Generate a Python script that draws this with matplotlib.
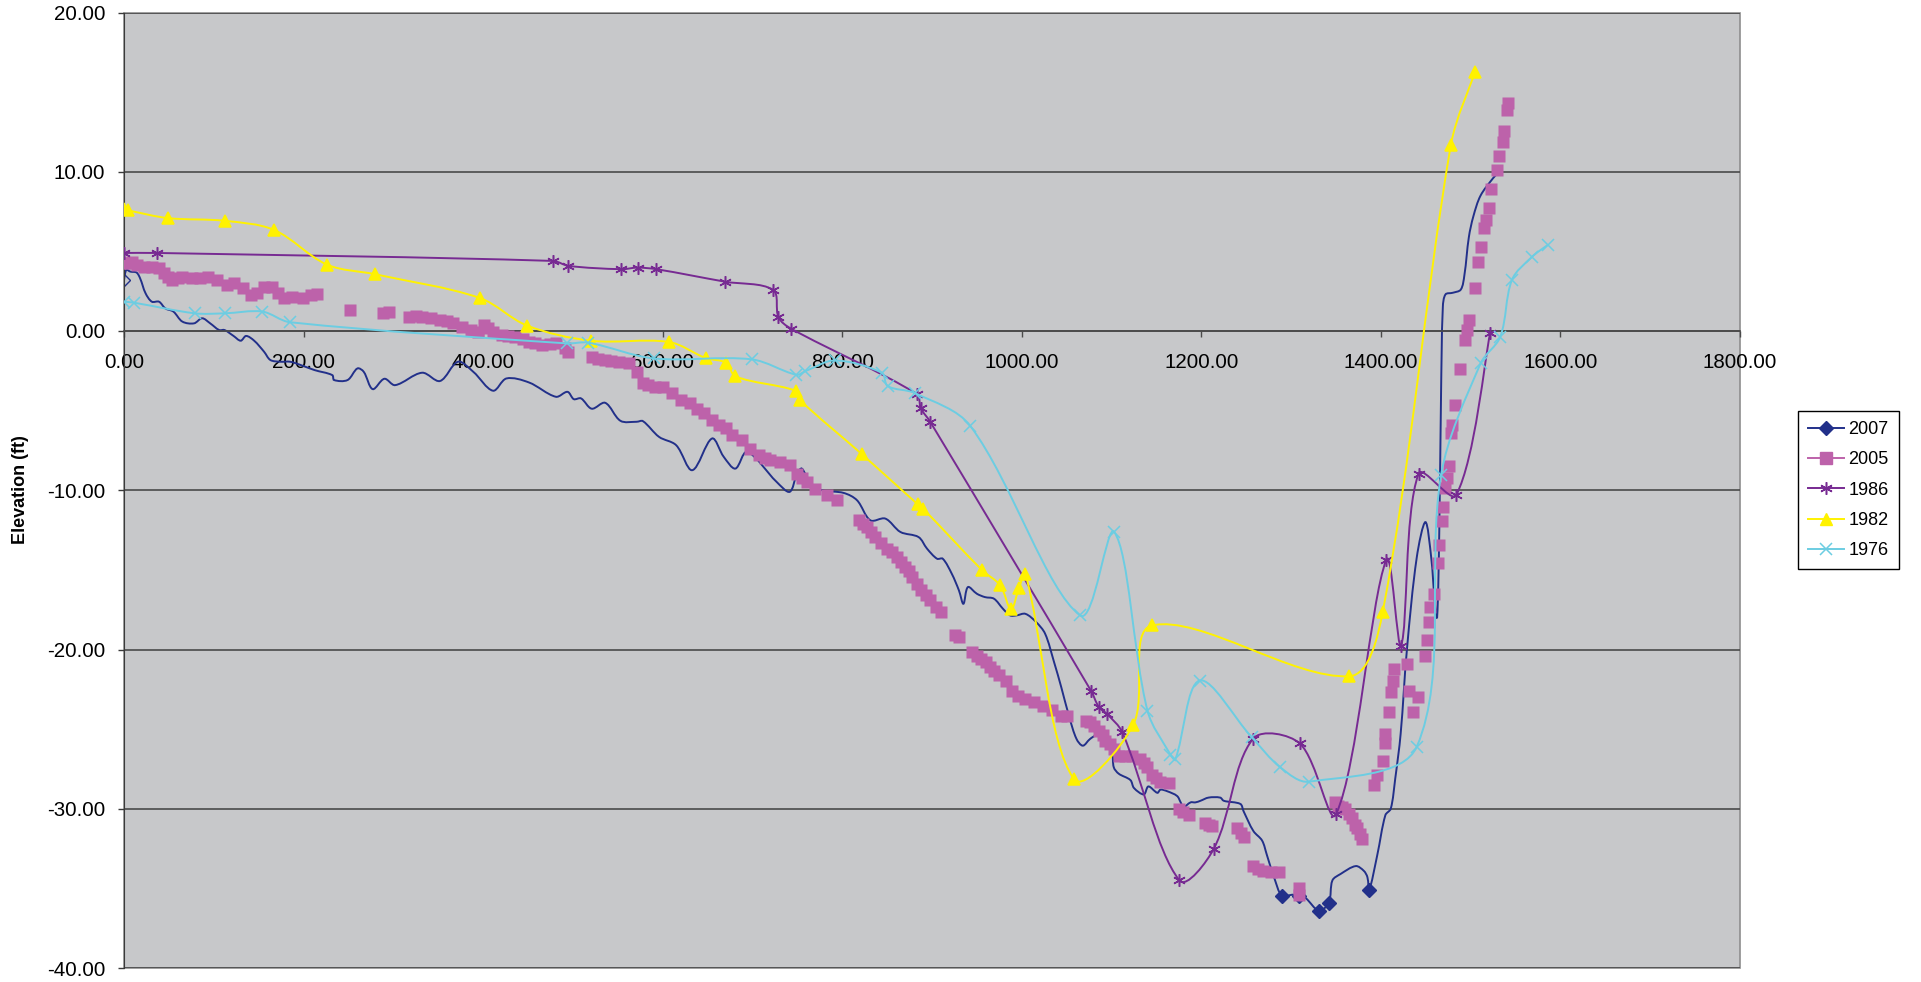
import numpy as np
import matplotlib
matplotlib.use("Agg")
from matplotlib import pyplot as plt
from matplotlib.path import Path
from matplotlib.patches import PathPatch, Rectangle
from matplotlib.lines import Line2D
from matplotlib.ticker import FuncFormatter, MultipleLocator

plt.rcParams['font.family'] = ['Liberation Sans', 'DejaVu Sans']
plt.rcParams['axes.unicode_minus'] = False

# ---- data (station ft, elevation ft) ----
x2007 = [0, 2.6, 7, 14, 18, 24, 31, 39, 46, 55, 65, 78, 87, 96, 106, 112, 122, 130, 136, 145,
         156, 163, 174, 185, 197, 212, 232, 234, 249, 260, 267, 277, 290, 302, 332, 352, 372, 389,
         411, 426, 451, 481, 494, 501, 509, 521, 536, 553, 571, 578, 596, 615, 633, 655, 668, 681,
         694, 727, 741.5, 749.7, 755, 764.5, 777.5, 801.7, 816.5, 831.4, 848, 864.8, 885, 894.5,
         905.6, 912, 922, 930, 935, 940, 950, 959, 969, 979, 987, 994, 1004, 1016, 1026, 1036,
         1044, 1053, 1061, 1068, 1076, 1083, 1093, 1100.6, 1102.5, 1108, 1121, 1125, 1136, 1141,
         1151, 1154.5, 1162, 1173, 1177, 1180, 1188, 1193.4, 1199, 1208, 1221, 1225, 1243.5, 1247,
         1258, 1267.7, 1273, 1281, 1290, 1301, 1309, 1316, 1331, 1342, 1346, 1355, 1372, 1381,
         1385, 1387, 1396, 1405, 1411, 1416, 1422, 1429, 1440, 1449.6, 1456, 1460, 1462.6, 1465,
         1467, 1469, 1472, 1480, 1489, 1493, 1498, 1503, 1511, 1525, 1530]
y2007 = [3.2, 3.84, 3.73, 3.67, 3.3, 2.37, 1.84, 1.84, 1.42, 1.22, 0.59, 0.48, 0.8, 0.48, 0.06,
         0.06, -0.31, -0.61, -0.31, -0.61, -1.3, -1.82, -1.93, -1.93, -2.14, -2.45, -2.77, -3.08,
         -3.08, -2.35, -2.56, -3.65, -3.0, -3.4, -2.62, -3.14, -1.93, -2.56, -3.75, -2.98, -3.23,
         -4.13, -3.82, -4.28, -4.23, -4.88, -4.51, -5.64, -5.7, -5.66, -6.65, -7.17, -8.74, -6.75,
         -7.9, -8.64, -7.59, -9.48, -10.1, -8.95, -8.64, -9.58, -10.0, -10.17, -10.63, -11.89,
         -11.78, -12.62, -12.94, -13.67, -14.3, -14.3, -15.24, -16.29, -17.13, -16.08, -16.5,
         -16.71, -16.81, -17.44, -17.86, -17.86, -17.76, -18.28, -19.01, -20.8, -22.37, -24.26,
         -25.62, -26.04, -25.62, -25.41, -25.62, -26.5, -27.4, -27.8, -28.2, -28.7, -29.1, -28.6,
         -29.0, -28.8, -28.9, -29.2, -29.6, -29.9, -29.6, -29.6, -29.5, -29.3, -29.3, -29.5,
         -29.7, -30.15, -31.4, -32.0, -32.9, -34.3, -35.5, -35.4, -35.45, -35.6, -36.4, -35.9,
         -34.5, -34.1, -33.6, -33.9, -34.3, -35.1, -32.9, -30.4, -30.0, -28.1, -25.3, -20.0,
         -14.2, -12.0, -14.2, -17.0, -18.0, -12.7, -4.0, 1.5, 2.3, 2.4, 2.6, 3.5, 5.9, 7.2, 8.5,
         9.6, 9.9]
marked2007 = [1290, 1309, 1331, 1342, 1387]

x2005 = [1.5, 5, 9, 14.5, 22, 31, 39, 44, 49, 53.5, 60, 65, 76, 85, 94, 104, 115, 122, 132, 141,
         148, 156, 165, 171, 178, 187, 199, 208, 215, 252, 288, 295,
         317, 325, 332, 342, 352, 360, 367, 377, 387, 394, 401, 406, 411, 421, 428, 436, 444, 451,
         458, 466, 474, 481, 491, 494, 521, 528, 536, 543, 551, 563, 571, 578, 584, 591, 600, 610,
         620, 630, 638, 645.7, 655, 662.4, 670, 677, 688.4, 697.7, 707, 714, 720, 731, 742.3,
         749.7, 755, 760.8, 770, 783, 794,
         818.4, 823, 827.7, 832, 837, 843, 850, 855, 861, 866, 870, 874, 878, 883, 888, 893, 898,
         904, 910, 926, 930, 945, 950, 955, 960, 965, 969, 975, 982, 989, 996, 1004, 1014, 1024,
         1034, 1044, 1050, 1072, 1076, 1081, 1086, 1090, 1093, 1098.7, 1103, 1108, 1115, 1123,
         1132, 1136, 1140, 1145, 1150, 1154.5, 1164, 1175, 1180, 1186, 1204.6, 1208, 1212, 1240,
         1244, 1247, 1258, 1263, 1269, 1278, 1286, 1308.5, 1308.5,
         1349, 1352, 1357, 1360.5, 1364, 1368, 1371, 1373.5, 1377, 1379, 1392, 1396, 1402.5, 1405,
         1405, 1408.8, 1411.4, 1413.6, 1415, 1429, 1431, 1436, 1441, 1449, 1451.5, 1453.3, 1455.2,
         1459, 1463.7, 1465, 1468, 1469.3, 1471, 1474, 1475.6, 1478.6, 1479.3, 1483, 1488, 1494,
         1496, 1498, 1505, 1508, 1511, 1515, 1517, 1520, 1522.5, 1529, 1532, 1536, 1537, 1540, 1542]
y2005 = [4.26, 4.3, 4.36, 4.15, 4.05, 4.05, 3.94, 3.63, 3.4, 3.21, 3.35, 3.42, 3.31, 3.31, 3.42,
         3.21, 2.89, 2.99, 2.68, 2.26, 2.37, 2.79, 2.79, 2.37, 2.05, 2.16, 2.1, 2.26, 2.33, 1.32,
         1.11, 1.22,
         0.9, 0.92, 0.9, 0.8, 0.69, 0.6, 0.48, 0.27, 0.06, -0.04, 0.38, 0.2, -0.04, -0.25, -0.3,
         -0.36, -0.5, -0.67, -0.75, -0.88, -0.8, -0.78, -1.09, -1.3, -1.61, -1.75, -1.82, -1.9,
         -1.93, -2.03, -2.56, -3.29, -3.4, -3.5, -3.5, -3.92, -4.34, -4.55, -4.9, -5.18, -5.6,
         -5.91, -6.12, -6.54, -6.86, -7.38, -7.8, -8.0, -8.11, -8.22, -8.43, -8.95, -9.2, -9.48,
         -9.9, -10.3, -10.63,
         -11.89, -12.1, -12.3, -12.6, -12.94, -13.3, -13.67, -13.9, -14.2, -14.5, -14.82, -15.1,
         -15.45, -15.9, -16.29, -16.6, -16.92, -17.3, -17.65, -19.1, -19.22, -20.17, -20.4, -20.6,
         -20.8, -21.1, -21.32, -21.6, -21.95, -22.58, -22.9, -23.1, -23.3, -23.52, -23.8, -24.15,
         -24.2, -24.5, -24.57, -24.8, -25.09, -25.4, -25.72, -25.95, -26.25, -26.7, -26.7, -26.7,
         -26.9, -27.1, -27.4, -27.9, -28.1, -28.3, -28.4, -30.0, -30.2, -30.4, -30.9, -31.0, -31.1,
         -31.2, -31.5, -31.8, -33.6, -33.8, -33.9, -34.0, -34.0, -35.0, -35.4,
         -29.6, -29.8, -29.9, -30.0, -30.3, -30.6, -31.0, -31.2, -31.6, -31.9, -28.5, -27.9, -27.0,
         -25.85, -25.3, -23.9, -22.7, -21.95, -21.2, -20.9, -22.6, -23.9, -23.0, -20.4, -19.4,
         -18.3, -17.34, -16.5, -14.55, -13.46, -11.93, -11.05, -9.83, -9.2, -8.47, -6.4, -5.9,
         -4.65, -2.4, -0.57, 0.06, 0.69, 2.69, 4.34, 5.27, 6.46, 6.95, 7.72, 8.92, 10.14, 10.98,
         11.86, 12.55, 13.85, 14.33]

x1986 = [0, 37, 478, 495, 554, 572, 593, 669, 723, 729, 743, 883, 887.5, 898, 1077, 1086, 1095,
         1112, 1175.6, 1214, 1257.7, 1309.7, 1350, 1406, 1422.5, 1442, 1484, 1521.6]
y1986 = [4.9, 4.9, 4.4, 4.09, 3.88, 3.98, 3.88, 3.1, 2.58, 0.86, 0.15, -3.95, -4.85, -5.7,
         -22.58, -23.63, -24.05, -25.2, -34.5, -32.5, -25.6, -25.9, -30.35, -14.36, -19.75, -8.95,
         -10.3, -0.15]

x1982 = [0, 5, 49, 112, 167, 226, 280, 396, 449, 520, 607, 648, 671, 681, 748, 753, 822, 884,
         890, 956, 976, 988, 997, 1004, 1058, 1124, 1145, 1365, 1402, 1478, 1505]
y1982 = [7.65, 7.57, 7.09, 6.92, 6.35, 4.17, 3.56, 2.08, 0.34, -0.61, -0.69, -1.7, -2.0, -2.85,
         -3.75, -4.34, -7.74, -10.88, -11.15, -15.03, -15.97, -17.48, -16.12, -15.24, -28.13,
         -24.75, -18.49, -21.68, -17.65, 11.71, 16.27]

x1976 = [0, 10.8, 79, 112, 154, 185, 493.5, 517, 590, 699, 749, 759, 792, 844, 850.7, 881, 942.8,
         1065, 1103, 1140, 1165.6, 1171, 1198, 1256, 1288, 1320, 1440, 1467, 1511, 1533, 1546,
         1568, 1586]
y1976 = [1.84, 1.78, 1.11, 1.11, 1.22, 0.55, -0.78, -0.73, -1.72, -1.78, -2.75, -2.52, -1.85,
         -2.62, -3.46, -3.9, -5.97, -17.86, -12.62, -23.84, -26.6, -26.9, -21.95, -25.5, -27.4,
         -28.3, -26.1, -9.06, -2.04, -0.36, 3.21, 4.64, 5.41]

series_names = ["2007", "2005", "1986", "1982", "1976"]
colors = {"2007": "#22308a", "2005": "#bd62aa", "1986": "#772a92",
          "1982": "#fff200", "1976": "#6ccde2"}
star = (6, 2, 0)


def smooth_path(ax, xs, ys):
    # Excel-like smoothed line: cubic beziers, tangents scaled by chord length
    pts = ax.transData.transform(np.column_stack([xs, ys]))
    n = len(pts)
    d = np.hypot(*np.diff(pts, axis=0).T)
    verts = [pts[0]]
    codes = [Path.MOVETO]
    for i in range(n - 1):
        p1, p2 = pts[i], pts[i + 1]
        if i > 0:
            c1 = p1 + (p2 - pts[i - 1]) * d[i] / (3 * (d[i - 1] + d[i]))
        else:
            c1 = p1 + (p2 - p1) / 6
        if i < n - 2:
            c2 = p2 - (pts[i + 2] - p1) * d[i] / (3 * (d[i] + d[i + 1]))
        else:
            c2 = p2 - (p2 - p1) / 6
        verts += [c1, c2, p2]
        codes += [Path.CURVE4] * 3
    verts = ax.transData.inverted().transform(np.array(verts))
    return Path(verts, codes)


fig = plt.figure(figsize=(19.21, 9.82), dpi=100)
ax = fig.add_axes([124 / 1921, 14 / 982, 1616 / 1921, 955.5 / 982])
ax.set_facecolor("#c7c8ca")
ax.set_xlim(0, 1800)
ax.set_ylim(-40, 20)

for side in ["top", "right"]:
    ax.spines[side].set_visible(False)
ax.spines["left"].set_color("#3a3a3a")
ax.spines["bottom"].set_position(("data", 0))
ax.spines["bottom"].set_color("#4a4a4a")
ax.spines["bottom"].set_linewidth(1.2)
ax.add_patch(Rectangle((0, 0), 1, 1, transform=ax.transAxes, fill=False,
                       edgecolor="#8e8e8e", lw=1.2, zorder=0.5, clip_on=False))

ax.yaxis.set_major_locator(MultipleLocator(10))
ax.xaxis.set_major_locator(MultipleLocator(200))
ax.yaxis.set_major_formatter(FuncFormatter(lambda v, p: f"{v:.2f}"))
ax.xaxis.set_major_formatter(FuncFormatter(lambda v, p: f"{v:.2f}"))
ax.tick_params(axis="y", length=4.5, width=1, color="#3a3a3a", labelsize=14.8, pad=9)
ax.tick_params(axis="x", length=4.5, width=1, color="#4a4a4a", labelsize=14.8, pad=11)
ax.grid(axis="y", color="#4a4a4a", lw=1.2)
ax.set_axisbelow(True)

# 2007 : smoothed line, diamonds on a few points
ax.add_patch(PathPatch(smooth_path(ax, x2007, y2007), fill=False,
                       edgecolor=colors["2007"], lw=1.4, zorder=2))
idx = [x2007.index(v) for v in marked2007]
ax.plot(x2007, y2007, ls="none", marker="D", ms=7, color=colors["2007"],
        markevery=idx, zorder=2.1)
ax.plot(x2007[:1], y2007[:1], ls="none", marker="D", ms=6, mfc="none",
        mec=colors["2007"], mew=1, zorder=2.1)

# 2005 : markers only
ax.plot(x2005, y2005, ls="none", marker="s", ms=8.5, color=colors["2005"], mec="none", zorder=3)

# 1986, 1982, 1976 : smoothed lines with markers
for name, xs, ys, mk, ms, z in [("1986", x1986, y1986, star, 9, 4),
                                ("1982", x1982, y1982, "^", 8.5, 5),
                                ("1976", x1976, y1976, "x", 8, 6)]:
    ax.add_patch(PathPatch(smooth_path(ax, xs, ys), fill=False,
                           edgecolor=colors[name], lw=1.4, zorder=z))
    ax.plot(xs, ys, ls="none", marker=mk, ms=ms, color=colors[name], mew=1.1, zorder=z + 0.1)

fig.text(21 / 1921, 1 - 490 / 982, "Elevation (ft)", rotation=90, ha="center", va="center",
         fontsize=13, fontweight="bold")

handles = [Line2D([], [], color=colors["2007"], marker="D", ms=7, lw=1.4),
           Line2D([], [], color=colors["2005"], marker="s", ms=8.5, lw=1.4),
           Line2D([], [], color=colors["1986"], marker=star, ms=9, mew=1.1, lw=1.4),
           Line2D([], [], color=colors["1982"], marker="^", ms=9, lw=1.4),
           Line2D([], [], color=colors["1976"], marker="x", ms=9, mew=1.1, lw=1.4)]
leg = fig.legend(handles, series_names, loc="upper left",
                 bbox_to_anchor=(1798 / 1921, 1 - 411 / 982), borderaxespad=0,
                 fontsize=13, frameon=True, fancybox=False, framealpha=1,
                 edgecolor="black", handlelength=2.0, handletextpad=0.25,
                 labelspacing=0.74, borderpad=0.55)
leg.get_frame().set_linewidth(1)

fig.savefig("out.png", dpi=100, facecolor="white")
